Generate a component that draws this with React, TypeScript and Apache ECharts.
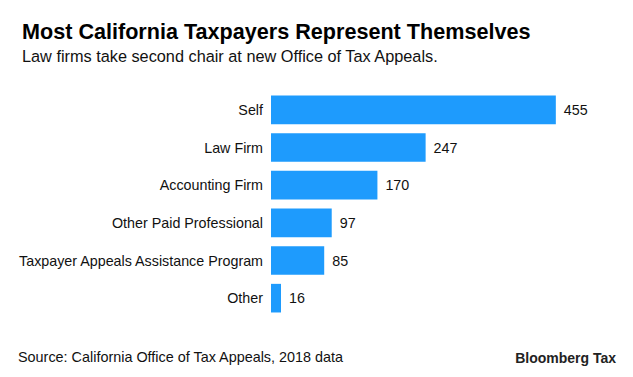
import React, { useEffect, useRef } from "react";
import * as echarts from "echarts";

const categories = [
  "Self",
  "Law Firm",
  "Accounting Firm",
  "Other Paid Professional",
  "Taxpayer Appeals Assistance Program",
  "Other",
];
const values = [455, 247, 170, 97, 85, 16];

const titleText = "Most California Taxpayers Represent Themselves";
const subtitleText = "Law firms take second chair at new Office of Tax Appeals.";
const sourceText = "Source: California Office of Tax Appeals, 2018 data";
const brandText = "Bloomberg Tax";

const FONT = "'Liberation Sans', Arial, sans-serif";

export default function App() {
  const ref = useRef<HTMLDivElement>(null);
  useEffect(() => {
    if (!ref.current) return;
    const chart = echarts.init(ref.current, null, { renderer: "svg" });
    chart.setOption({
      animation: false,
      backgroundColor: "#ffffff",
      title: {
        text: titleText,
        subtext: subtitleText,
        left: 9,
        top: 7,
        itemGap: 6,
        textStyle: {
          fontFamily: FONT,
          fontSize: 21.6,
          fontWeight: "bold",
          color: "#000000",
        },
        subtextStyle: {
          fontFamily: FONT,
          fontSize: 16.3,
          color: "#111111",
        },
      },
      grid: {
        left: 263,
        right: 41,
        top: 83,
        height: 226,
        containLabel: false,
      },
      xAxis: {
        type: "value",
        min: 0,
        max: 500,
        show: false,
      },
      yAxis: {
        type: "category",
        data: categories,
        inverse: true,
        axisLine: { show: false },
        axisTick: { show: false },
        splitLine: { show: false },
        axisLabel: {
          fontFamily: FONT,
          fontSize: 14.3,
          color: "#111111",
          margin: 8,
        },
      },
      series: [
        {
          type: "bar",
          data: values,
          barCategoryGap: "24%",
          itemStyle: { color: "#1e9bfd" },
          label: {
            show: true,
            position: "right",
            distance: 8,
            fontFamily: FONT,
            fontSize: 14.3,
            color: "#111111",
          },
        },
      ],
      graphic: [
        {
          type: "text",
          left: 10,
          top: 342,
          style: {
            text: sourceText,
            fontFamily: FONT,
            fontSize: 14.4,
            fill: "#111111",
          },
        },
        {
          type: "text",
          right: 9,
          top: 343,
          style: {
            text: brandText,
            fontFamily: FONT,
            fontSize: 14,
            fontWeight: "bold",
            fill: "#222222",
          },
        },
      ],
    });
    return () => chart.dispose();
  }, []);
  return <div ref={ref} style={{ width: 617, height: 361 }} />;
}
